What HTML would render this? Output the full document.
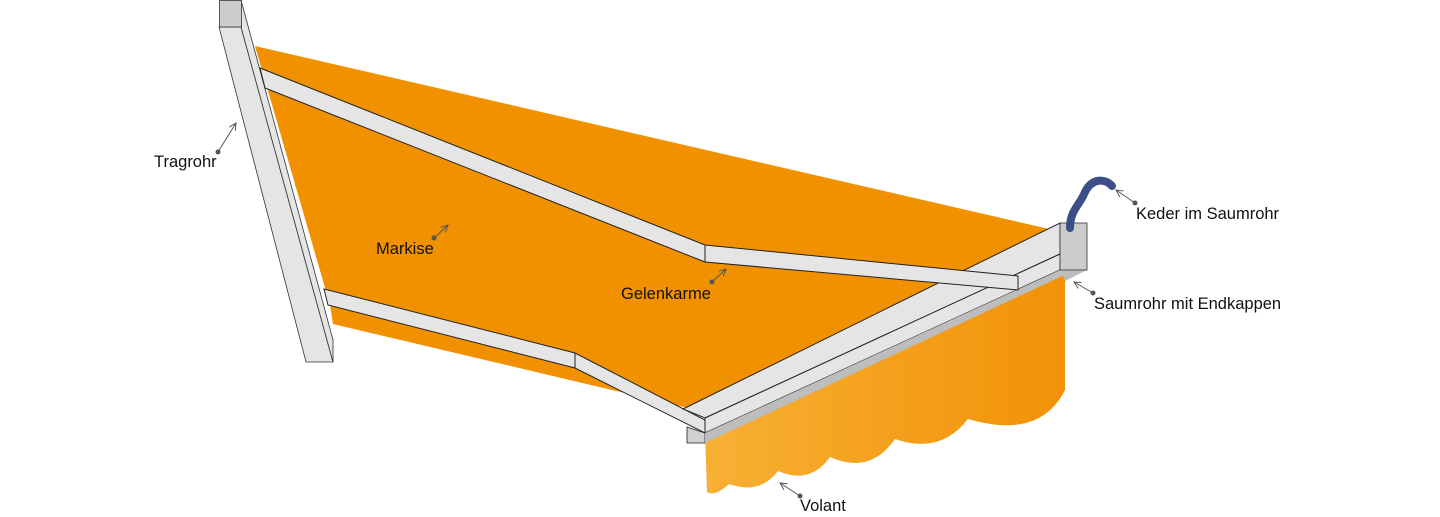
<!DOCTYPE html>
<html><head><meta charset="utf-8"><style>
html,body{margin:0;padding:0;background:#fff;}
svg{display:block;}
text{font-family:"Liberation Sans",Arial,sans-serif;font-size:16.5px;fill:#111;}
</style></head><body>
<svg width="1440" height="517" viewBox="0 0 1440 517" xmlns="http://www.w3.org/2000/svg">
<defs>
<linearGradient id="vg" x1="705" y1="0" x2="1065" y2="0" gradientUnits="userSpaceOnUse">
<stop offset="0" stop-color="#F7B034"/><stop offset="1" stop-color="#F29207"/>
</linearGradient>
<marker id="ah" markerWidth="8" markerHeight="8" refX="7" refY="4" orient="auto" markerUnits="userSpaceOnUse">
<path d="M0,0.5 L7,4 L0,7.5" fill="none" stroke="#555" stroke-width="1"/>
</marker>
</defs>
<!-- canopy -->
<polygon points="255,46 1062,232 1062,248 705,412 333,324 330,305" fill="#F29100"/>
<!-- volant -->
<path d="M705,433 L1065,270 L1065,390 Q1040,440 968,419 Q940,455 895,439 Q870,475 830,457 Q810,485 778,471 Q760,495 729,484 Q715,497 707,492 Z" fill="url(#vg)"/>
<!-- lower arm -->
<polygon points="324,289 575,353 705,420 705,433 575,368 328,305" fill="#E5E5E5" stroke="#222" stroke-width="1"/>
<line x1="575" y1="353" x2="575" y2="368" stroke="#222"/>
<!-- tragrohr -->
<polygon points="219,27 241,27 333,362 306,362" fill="#E5E5E5" stroke="#333" stroke-width="0.8"/>
<polygon points="241,0 241,27 333,362 333,340" fill="#E5E5E5" stroke="#333" stroke-width="0.8"/>
<rect x="219.5" y="0.5" width="22" height="26.5" fill="#CCCCCC" stroke="#333" stroke-width="0.8"/>
<!-- front bar -->
<polygon points="1060,223 1060,254 705,418 683,409" fill="#E5E5E5" stroke="#222" stroke-width="1"/>
<polygon points="1060,254 1060,270 705,433 705,418" fill="#E5E5E5" stroke="#222" stroke-width="1"/>
<polygon points="687,427 705,433 705,443 687,443" fill="#D0D0D0" stroke="#222" stroke-width="0.8"/>
<polygon points="705,433 1060,270 1075,270 705,443" fill="#BDBDBD"/>
<polygon points="1060,270 1087,270 1065,281" fill="#BDBDBD"/>
<rect x="1060" y="223" width="27" height="47" fill="#CCCCCC" stroke="#333" stroke-width="0.8"/>
<!-- upper arm (drawn over front bar) -->
<polygon points="260,68 705,245 1018,276 1018,290 705,262 265,88" fill="#E5E5E5" stroke="#222" stroke-width="1"/>
<line x1="705" y1="245" x2="705" y2="262" stroke="#222"/>
<line x1="1018" y1="276" x2="1018" y2="290" stroke="#222"/>
<!-- keder -->
<path d="M1070,228 C1070,210 1080,205 1085,192 C1092,178 1105,178 1112,186" fill="none" stroke="#3A5086" stroke-width="8" stroke-linecap="round"/>
<!-- labels -->
<g stroke="#555" stroke-width="1" fill="none">
<line x1="218" y1="152" x2="236" y2="123" marker-end="url(#ah)"/>
<line x1="434" y1="238" x2="448" y2="225" marker-end="url(#ah)"/>
<line x1="712" y1="282" x2="726" y2="269" marker-end="url(#ah)"/>
<line x1="1135" y1="203" x2="1116" y2="190" marker-end="url(#ah)"/>
<line x1="1093" y1="293" x2="1074" y2="282" marker-end="url(#ah)"/>
<line x1="800" y1="496" x2="780" y2="483" marker-end="url(#ah)"/>
</g>
<g fill="#555">
<circle cx="218" cy="152" r="2.5"/><circle cx="434" cy="238" r="2.5"/><circle cx="712" cy="282" r="2.5"/>
<circle cx="1135" cy="203" r="2.5"/><circle cx="1093" cy="293" r="2.5"/><circle cx="800" cy="496" r="2.5"/>
</g>
<text x="154" y="167">Tragrohr</text>
<text x="376" y="254">Markise</text>
<text x="621" y="299">Gelenkarme</text>
<text x="1136" y="219">Keder im Saumrohr</text>
<text x="1094" y="309">Saumrohr mit Endkappen</text>
<text x="800" y="511">Volant</text>
</svg>
</body></html>
